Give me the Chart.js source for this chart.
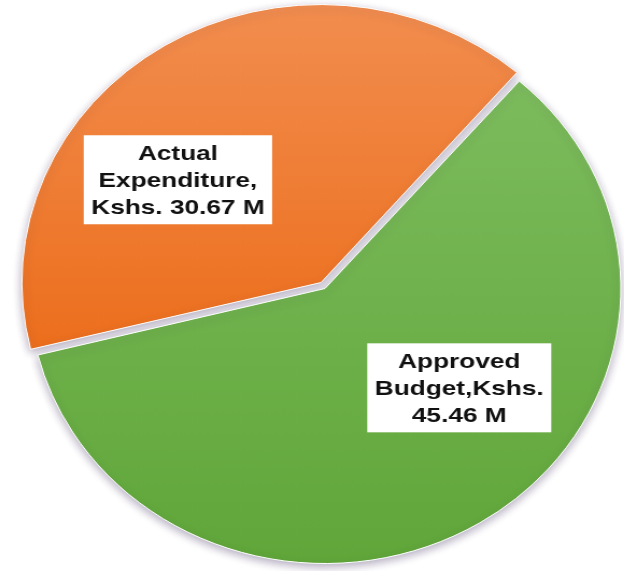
<!DOCTYPE html>
<html>
<head>
<meta charset="utf-8">
<script src="https://cdn.jsdelivr.net/npm/chart.js@4.4.1/dist/chart.umd.min.js"></script>
<style>
  html, body { margin: 0; padding: 0; background: #fff; overflow: hidden; }
  /* the pie is a bit wider than tall, so stretch the whole canvas sideways */
  #wrap { width: 580px; height: 571px; transform: scaleX(1.076); transform-origin: 0 0; }
</style>
</head>
<body>
<div id="wrap"><canvas id="pie" width="580" height="571"></canvas></div>
<script>
// budget data (Kshs, millions)
var categories = ["Actual Expenditure", "Approved Budget"];
var amounts = [30.67, 45.46];
var labelLines = [
  ["Actual", "Expenditure,", "Kshs. " + amounts[0].toFixed(2) + " M"],
  ["Approved", "Budget,Kshs.", amounts[1].toFixed(2) + " M"]
];

// vertical shading for each slice [top colour, bottom colour, top y, bottom y]
var shades = [
  ["rgb(242,142,80)", "rgb(236,110,28)", 0, 360],
  ["rgb(125,188,94)", "rgb(96,166,57)", 70, 565]
];

function sliceFill(context) {
  var s = shades[context.dataIndex];
  var ctx = context.chart.ctx;
  var g = ctx.createLinearGradient(0, s[2], 0, s[3]);
  g.addColorStop(0, s[0]);
  g.addColorStop(1, s[1]);
  return g;
}

// soft drop shadow under the slices
var pieShadow = {
  id: 'pieShadow',
  beforeDatasetsDraw: function(chart) {
    var ctx = chart.ctx;
    ctx.save();
    ctx.shadowColor = 'rgba(60,40,90,0.38)';
    ctx.shadowBlur = 8;
    ctx.shadowOffsetY = 3;
  },
  afterDatasetsDraw: function(chart) {
    chart.ctx.restore();
  }
};

// white boxes with bold text inside each slice
var boxLabels = {
  id: 'boxLabels',
  afterDraw: function(chart, args, opts) {
    var ctx = chart.ctx;
    var arcs = chart.getDatasetMeta(0).data;
    arcs.forEach(function(arc, i) {
      var p = arc.getProps(['x', 'y', 'startAngle', 'endAngle', 'outerRadius']);
      var a = (p.startAngle + p.endAngle) / 2 + opts.shift[i] * Math.PI / 180;
      var cx = p.x + Math.cos(a) * p.outerRadius * opts.dist[i];
      var cy = p.y + Math.sin(a) * p.outerRadius * opts.dist[i];
      var lines = labelLines[i];
      ctx.save();
      ctx.font = 'bold ' + opts.size + 'px "Liberation Sans", Arial, sans-serif';
      var w = 0;
      lines.forEach(function(t) { w = Math.max(w, ctx.measureText(t).width * opts.stretch); });
      var bw = w + 2 * opts.pad;
      var bh = lines.length * opts.lineHeight + 8;
      ctx.fillStyle = '#fff';
      ctx.fillRect(cx - bw / 2, cy - bh / 2, bw, bh);
      ctx.fillStyle = '#111';
      ctx.textAlign = 'center';
      ctx.textBaseline = 'middle';
      lines.forEach(function(t, k) {
        var ty = cy - bh / 2 + 4 + opts.lineHeight * (k + 0.5) + 1;
        ctx.save();
        ctx.translate(cx, ty);
        ctx.scale(opts.stretch, 1);
        ctx.fillText(t, 0, 0);
        ctx.restore();
      });
      ctx.restore();
    });
  }
};

new Chart(document.getElementById("pie"), {
  type: 'pie',
  data: {
    labels: categories,
    datasets: [{
      data: amounts,
      backgroundColor: sliceFill,
      borderColor: '#fff',
      borderWidth: 1,
      offset: [28, 0],
      radius: 275
    }]
  },
  options: {
    responsive: false,
    animation: false,
    rotation: -104,
    layout: { padding: { left: 24, right: 0, top: 6, bottom: 0 } },
    plugins: {
      legend: { display: false },
      tooltip: { enabled: false },
      boxLabels: { size: 21, stretch: 1.16, lineHeight: 27, pad: 7, shift: [-20, -20], dist: [0.635, 0.58] }
    }
  },
  plugins: [pieShadow, boxLabels]
});
</script>
</body>
</html>
